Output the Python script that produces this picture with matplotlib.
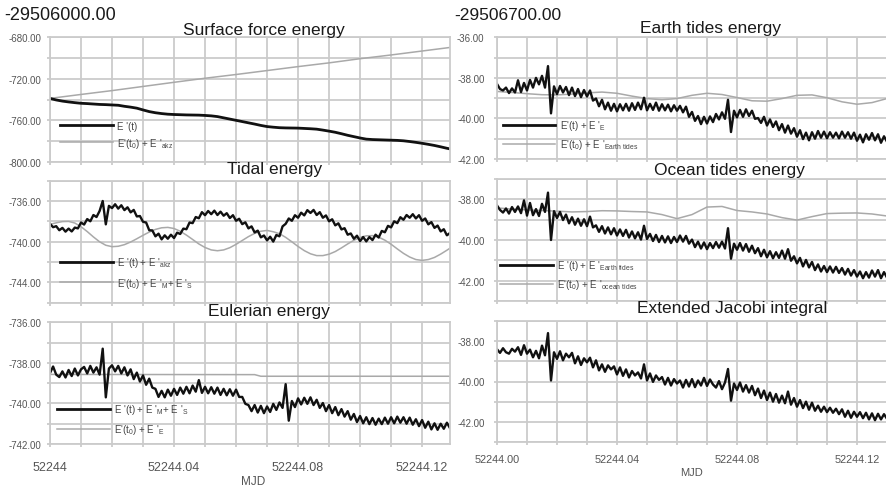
import numpy as np
import matplotlib
matplotlib.use("Agg")
import matplotlib.pyplot as plt
from matplotlib.lines import Line2D

plt.rcParams['font.family'] = ['Liberation Sans', 'DejaVu Sans']
plt.rcParams['mathtext.default'] = 'regular'

MJD0 = 52244.0
# sampling grids (days after MJD0)
T_FINE = np.arange(131) * 0.001
T_002 = np.arange(66) * 0.002
T_005 = np.arange(27) * 0.005
T_010 = np.arange(14) * 0.01
T_EUL_GRAY = [0.0, 0.066, 0.068, 0.130]

# ---------------- Surface force energy (offset -29506000) ----------------
surf_black = [-738.8, -740.3, -741.4, -742.2, -742.9, -743.5, -743.8, -744.2, -744.6, -744.8,
              -745.1, -745.4, -746.4, -747.2, -748.2, -749.9, -751.5, -752.6, -753.4, -754.0,
              -754.3, -754.5, -754.7, -754.8, -754.9, -755.2, -755.6, -756.3, -757.5, -758.7,
              -759.9, -761.1, -762.3, -763.5, -764.8, -765.9, -766.5, -767.0, -767.2, -767.3,
              -767.4, -767.7, -768.0, -768.4, -769.3, -770.3, -771.4, -772.8, -774.3, -775.6,
              -776.9, -778.0, -778.4, -778.6, -778.8, -779.0, -779.2, -779.6, -780.3, -781.1,
              -782.0, -783.0, -784.1, -785.4, -786.8, -788.0]
surf_gray = [-738.8, -735.0, -731.3, -727.3, -723.3, -719.4, -715.8, -712.0, -708.2, -704.6,
             -700.6, -697.0, -693.2, -689.4]

# ---------------- Tidal energy ----------------
tidal_black = [-738.25, -738.58, -738.48, -738.88, -738.65, -739.02, -738.72, -739.00, -738.62, -738.70,
               -738.12, -738.32, -737.78, -738.00, -737.38, -737.58, -736.98, -736.00, -738.30, -736.48,
               -736.70, -736.32, -736.75, -736.42, -736.90, -736.62, -737.12, -736.88, -737.52, -737.48,
               -738.05, -738.12, -738.88, -738.90, -739.48, -739.22, -739.78, -739.38, -739.72, -739.32,
               -739.65, -739.12, -739.25, -738.72, -738.78, -738.12, -738.18, -737.58, -737.70, -737.10,
               -737.40, -736.98, -737.30, -736.95, -737.38, -737.05, -737.45, -737.20, -737.68, -737.40,
               -737.95, -737.75, -738.28, -738.10, -738.70, -738.50, -739.10, -738.92, -739.58, -739.40,
               -739.88, -739.52, -740.00, -739.35, -739.48, -738.50, -738.25, -737.72, -737.95, -737.40,
               -737.65, -737.15, -737.42, -736.90, -737.18, -736.88, -737.38, -737.10, -737.65, -737.42,
               -738.00, -737.80, -738.40, -738.20, -738.80, -738.68, -739.32, -739.20, -739.72, -739.42,
               -739.95, -739.55, -739.98, -739.55, -739.85, -739.32, -739.60, -738.95, -739.08, -738.45,
               -738.60, -738.00, -738.18, -737.60, -737.85, -737.38, -737.65, -737.30, -737.72, -737.40,
               -737.95, -737.72, -738.30, -738.08, -738.65, -738.42, -739.00, -738.78, -739.38, -739.15,
               -739.55]
tidal_gray = [-738.30, -738.15, -738.03, -738.01, -738.17, -738.53, -739.01, -739.54, -740.02, -740.36,
              -740.50, -740.46, -740.30, -740.04, -739.72, -739.38, -739.06, -738.80, -738.64, -738.60,
              -738.71, -738.98, -739.36, -739.79, -740.23, -740.58, -740.82, -740.90, -740.82, -740.60,
              -740.27, -739.89, -739.51, -739.19, -738.98, -738.90, -739.03, -739.22, -739.58, -740.02,
              -740.48, -740.89, -741.20, -741.38, -741.38, -741.24, -740.98, -740.62, -740.23, -739.87,
              -739.59, -739.43, -739.41, -739.56, -739.86, -740.26, -740.72, -741.16, -741.52, -741.77,
              -741.85, -741.77, -741.56, -741.23, -740.85, -740.45]

# ---------------- Eulerian energy ----------------
euler_black = [-738.50, -738.18, -738.58, -738.70, -738.42, -738.72, -738.35, -738.65, -738.28, -738.62,
               -738.32, -738.20, -738.52, -738.15, -738.48, -738.22, -738.58, -737.30, -739.70, -738.28,
               -738.12, -738.42, -738.15, -738.52, -738.22, -738.62, -738.32, -738.80, -738.48, -738.92,
               -738.62, -739.08, -738.78, -739.22, -739.28, -739.68, -739.38, -739.70, -739.32, -739.62,
               -739.28, -739.58, -739.22, -739.52, -739.18, -739.50, -739.12, -739.42, -738.85, -739.48,
               -739.18, -739.50, -739.20, -739.52, -739.22, -739.58, -739.28, -739.60, -739.30, -739.62,
               -739.32, -739.68, -739.68, -740.02, -740.08, -740.38, -740.08, -740.45, -740.12, -740.48,
               -740.15, -740.42, -740.02, -740.32, -739.95, -740.22, -739.05, -740.85, -739.88, -740.18,
               -739.75, -740.05, -739.72, -740.02, -739.70, -740.08, -739.82, -740.22, -739.98, -740.38,
               -740.08, -740.48, -740.18, -740.58, -740.28, -740.65, -740.38, -740.80, -740.52, -740.92,
               -740.62, -740.98, -740.68, -741.02, -740.72, -741.05, -740.75, -741.02, -740.70, -741.00,
               -740.68, -740.98, -740.65, -740.95, -740.68, -741.00, -740.70, -741.05, -740.78, -741.12,
               -740.82, -741.20, -740.90, -741.28, -740.98, -741.30, -741.00, -741.25, -740.95, -741.22,
               -741.10]
euler_gray = [-738.57, -738.58, -738.66, -738.66]

# ---------------- Earth tides energy (offset -29506700) ----------------
earth_black = [-38.30, -38.55, -38.62, -38.48, -38.75, -38.52, -38.72, -38.12, -38.70, -38.25,
               -38.62, -38.10, -38.48, -38.00, -38.32, -37.90, -38.48, -37.42, -39.75, -38.42,
               -38.80, -38.40, -38.72, -38.45, -38.85, -38.48, -38.90, -38.55, -38.95, -38.60,
               -38.92, -38.62, -39.12, -39.02, -39.40, -39.08, -39.55, -39.22, -39.62, -39.28,
               -39.65, -39.30, -39.60, -39.28, -39.62, -39.25, -39.58, -39.22, -39.55, -38.98,
               -39.60, -39.28, -39.58, -39.22, -39.62, -39.30, -39.60, -39.32, -39.65, -39.35,
               -39.62, -39.38, -39.70, -39.42, -39.92, -39.68, -40.12, -39.88, -40.28, -39.92,
               -40.25, -39.90, -40.18, -39.78, -40.05, -39.70, -40.02, -39.08, -40.67, -39.62,
               -39.95, -39.58, -39.92, -39.55, -39.88, -39.62, -40.02, -39.98, -40.22, -39.92,
               -40.35, -40.05, -40.42, -40.15, -40.58, -40.28, -40.70, -40.35, -40.75, -40.48,
               -40.90, -40.58, -41.02, -40.70, -41.08, -40.68, -41.00, -40.62, -40.95, -40.65,
               -40.98, -40.68, -40.95, -40.70, -40.98, -40.65, -40.95, -40.68, -41.00, -40.70,
               -41.10, -40.80, -41.18, -40.78, -41.05, -40.72, -41.08, -40.78, -41.20, -40.88,
               -41.15]
earth_gray = [-38.67, -38.72, -38.78, -38.83, -38.84, -38.80, -38.74, -38.70, -38.76, -38.90,
              -39.02, -39.08, -39.02, -38.86, -38.76, -38.82, -38.97, -39.13, -39.15, -39.02,
              -38.86, -38.84, -38.98, -39.18, -39.30, -39.22, -39.02]

# ---------------- Ocean tides energy ----------------
ocean_black = [-38.30, -38.52, -38.65, -38.45, -38.70, -38.38, -38.62, -38.35, -38.68, -38.05,
               -38.80, -38.18, -38.78, -38.48, -38.82, -38.22, -38.62, -37.67, -40.00, -38.58,
               -38.92, -38.62, -39.02, -38.75, -39.18, -38.88, -39.25, -38.95, -39.30, -38.98,
               -39.32, -38.85, -39.38, -39.28, -39.60, -39.32, -39.68, -39.38, -39.72, -39.42,
               -39.78, -39.48, -39.80, -39.50, -39.88, -39.58, -39.92, -39.62, -39.98, -39.30,
               -39.95, -39.70, -40.05, -39.75, -40.10, -39.80, -40.12, -39.82, -40.15, -39.85,
               -40.10, -39.78, -40.08, -39.80, -40.18, -39.98, -40.35, -40.08, -40.42, -40.12,
               -40.45, -40.15, -40.40, -40.10, -40.38, -40.08, -40.42, -39.42, -40.92, -40.18,
               -40.48, -40.15, -40.52, -40.20, -40.58, -40.28, -40.65, -40.40, -40.80, -40.48,
               -40.85, -40.55, -40.90, -40.60, -40.88, -40.52, -40.92, -40.45, -41.02, -40.80,
               -41.15, -40.88, -41.30, -40.98, -41.35, -41.08, -41.48, -41.20, -41.55, -41.28,
               -41.58, -41.30, -41.60, -41.32, -41.62, -41.38, -41.70, -41.42, -41.75, -41.48,
               -41.80, -41.55, -41.88, -41.58, -41.85, -41.50, -41.80, -41.48, -41.88, -41.58,
               -41.85]
ocean_gray = [-38.42, -38.48, -38.52, -38.55, -38.58, -38.62, -38.60, -38.56, -38.57, -38.60,
              -38.62, -38.75, -38.95, -38.75, -38.38, -38.35, -38.55, -38.62, -38.72, -38.90,
              -39.02, -38.85, -38.70, -38.68, -38.67, -38.72, -38.82]

# ---------------- Extended Jacobi integral ----------------
jacobi = [-38.40, -38.58, -38.35, -38.55, -38.62, -38.38, -38.52, -38.30, -38.68, -38.20,
          -38.62, -38.42, -38.80, -38.48, -38.85, -38.22, -38.70, -37.60, -39.95, -38.55,
          -38.88, -38.50, -38.95, -38.62, -38.80, -38.58, -39.10, -38.75, -39.18, -38.85,
          -39.05, -38.82, -39.30, -38.95, -39.45, -39.15, -39.52, -39.20, -39.40, -39.25,
          -39.65, -39.30, -39.72, -39.40, -39.80, -39.48, -39.70, -39.55, -39.85, -39.15,
          -39.95, -39.60, -40.02, -39.70, -39.92, -39.78, -40.15, -39.82, -40.20, -39.88,
          -40.10, -39.95, -40.30, -39.92, -40.25, -39.88, -40.28, -39.95, -40.20, -39.82,
          -40.22, -39.90, -40.15, -40.30, -39.98, -40.38, -40.05, -39.38, -40.95, -40.10,
          -40.42, -40.05, -40.50, -40.18, -40.55, -40.22, -40.68, -40.35, -40.82, -40.45,
          -40.92, -40.55, -41.00, -40.62, -41.05, -40.70, -41.08, -40.50, -41.15, -40.82,
          -41.25, -40.92, -41.32, -41.00, -41.40, -41.05, -41.45, -41.20, -41.50, -41.25,
          -41.52, -41.30, -41.55, -41.35, -41.62, -41.38, -41.75, -41.45, -41.80, -41.50,
          -41.75, -41.52, -41.82, -41.55, -41.88, -41.58, -41.92, -41.60, -41.88, -41.62,
          -41.85]

TITLES = ["Surface force energy", "Tidal energy", "Eulerian energy",
          "Earth tides energy", "Ocean tides energy", "Extended Jacobi integral"]
OFFSETS = ["-29506000.00", "-29506700.00"]
LEFT_XLABELS = ["52244", "52244.04", "52244.08", "52244.12"]
RIGHT_XLABELS = ["52244.00", "52244.04", "52244.08", "52244.12"]
XLABEL = "MJD"

BLACK = "#111111"
GRAY = "#a9a9a9"
GRID = "#cbcbcb"
BLW = 1.7

W, H = 887, 489
fig = plt.figure(figsize=(W / 100, H / 100), dpi=100)


def add_ax(x0, y0, x1, y1):
    return fig.add_axes([x0 / W, 1 - y1 / H, (x1 - x0) / W, (y1 - y0) / H])


def style(ax, xmax, ylim, ymajor, yminor_step, xlabels, ypad):
    ax.set_xlim(MJD0, MJD0 + xmax)
    ax.set_ylim(*ylim)
    ax.set_xticks([MJD0 + v for v in np.arange(0, xmax + 1e-9, 0.01)], minor=True)
    ax.set_xticks([MJD0 + v for v in (0.0, 0.04, 0.08, 0.12)])
    ax.set_yticks(ymajor)
    ax.set_yticks(np.arange(ylim[0], ylim[1] + 1e-9, yminor_step), minor=True)
    ax.set_yticklabels(["%.2f" % v for v in ymajor])
    if xlabels is not None:
        ax.set_xticklabels(xlabels)
    else:
        ax.tick_params(axis='x', labelbottom=False)
    ax.grid(which='both', color=GRID, linewidth=1.3)
    ax.set_axisbelow(True)
    for s in ax.spines.values():
        s.set_color(GRID)
        s.set_linewidth(1.3)
    ax.tick_params(which='both', length=2.5, color=GRID, width=1.3)
    ax.tick_params(axis='y', labelsize=7, labelcolor="#555555", pad=ypad)
    ax.tick_params(axis='x', labelcolor="#555555")


def legend(ax, labels, x, y, spacing):
    handles = [Line2D([], [], color=BLACK, lw=2.0), Line2D([], [], color=GRAY, lw=1.1)]
    lg = ax.legend(handles, labels, loc='center left', bbox_to_anchor=(x, y), frameon=False,
                   fontsize=7, handlelength=5.4, handletextpad=0.45, labelspacing=spacing,
                   borderpad=0, borderaxespad=0)
    for t in lg.get_texts():
        t.set_color("#444444")


LX0, LX1 = 50, 450
RX0, RX1 = 497, 887

# Left column
ax1 = add_ax(LX0, 38.3, LX1, 163)
ax1.plot(MJD0 + T_010, surf_gray, color=GRAY, lw=1.1)
ax1.plot(MJD0 + T_002, surf_black, color=BLACK, lw=2.0)
style(ax1, 0.129, (-800, -680), [-800, -760, -720, -680], 20, None, 3.5)
legend(ax1, ["E '(t)", "E'(t$_0$) + E '$_{akz}$"], 0.025, 0.215, 0.55)

ax2 = add_ax(LX0, 181.7, LX1, 303.5)
ax2.plot(MJD0 + T_002, tidal_gray, color=GRAY, lw=1.1)
ax2.plot(MJD0 + T_FINE, tidal_black, color=BLACK, lw=BLW)
style(ax2, 0.129, (-746, -734), [-744, -740, -736], 2, None, 3.5)
legend(ax2, ["E '(t) + E '$_{akz}$", "E'(t$_0$) + E '$_M$+ E '$_S$"], 0.025, 0.245, 0.65)

ax3 = add_ax(LX0, 323.3, LX1, 445)
ax3.plot(MJD0 + np.array(T_EUL_GRAY), euler_gray, color=GRAY, lw=1.1)
ax3.plot(MJD0 + T_FINE, euler_black, color=BLACK, lw=BLW)
style(ax3, 0.129, (-742, -736), [-742, -740, -738, -736], 1, LEFT_XLABELS, 3.5)
ax3.tick_params(axis='x', labelsize=9, pad=10)
legend(ax3, ["E '(t) + E '$_M$+ E '$_S$", "E'(t$_0$) + E '$_E$"], 0.0175, 0.205, 0.6)

# Right column
ax4 = add_ax(RX0, 38.3, RX1, 160)
ax4.plot(MJD0 + T_005, earth_gray, color=GRAY, lw=1.1)
ax4.plot(MJD0 + T_FINE, earth_black, color=BLACK, lw=BLW)
style(ax4, 0.130, (-42, -36), [-42, -40, -38, -36], 1, None, 6.5)
legend(ax4, ["E'(t) + E '$_E$", "E'(t$_0$) + E '$_{Earth\\ tides}$"], 0.015, 0.199, 0.5)

ax5 = add_ax(RX0, 180, RX1, 302)
ax5.plot(MJD0 + T_005, ocean_gray, color=GRAY, lw=1.1)
ax5.plot(MJD0 + T_FINE, ocean_black, color=BLACK, lw=BLW)
style(ax5, 0.130, (-43, -37), [-42, -40, -38], 1, None, 6.5)
legend(ax5, ["E '(t) + E '$_{Earth\\ tides}$", "E'(t$_0$) + E '$_{ocean\\ tides}$"], 0.008, 0.217, 0.5)

ax6 = add_ax(RX0, 322, RX1, 443)
ax6.plot(MJD0 + T_FINE, jacobi, color=BLACK, lw=BLW)
style(ax6, 0.130, (-43, -37), [-42, -40, -38], 1, RIGHT_XLABELS, 6.5)
ax6.tick_params(axis='x', labelsize=7.8, pad=6)


def ftext(x, y, s, **kw):
    fig.text(x / W, 1 - y / H, s, **kw)


TCOL = "#1a1a1a"
ftext(264, 30, TITLES[0], ha='center', va='center', fontsize=12.5, color=TCOL)
ftext(275, 170, TITLES[1], ha='center', va='center', fontsize=12.5, color=TCOL)
ftext(269, 312, TITLES[2], ha='center', va='center', fontsize=12.5, color=TCOL)
ftext(711, 28, TITLES[3], ha='center', va='center', fontsize=12.5, color=TCOL)
ftext(729, 171, TITLES[4], ha='center', va='center', fontsize=12.5, color=TCOL)
ftext(732, 309, TITLES[5], ha='center', va='center', fontsize=12.5, color=TCOL)
ftext(4, 15, OFFSETS[0], ha='left', va='center', fontsize=13, color=TCOL)
ftext(454, 15, OFFSETS[1], ha='left', va='center', fontsize=12.5, color=TCOL)
ftext(253, 482, XLABEL, ha='center', va='center', fontsize=8.5, color="#555555")
ftext(692, 473, XLABEL, ha='center', va='center', fontsize=8, color="#555555")

fig.savefig("out.png", dpi=100)
